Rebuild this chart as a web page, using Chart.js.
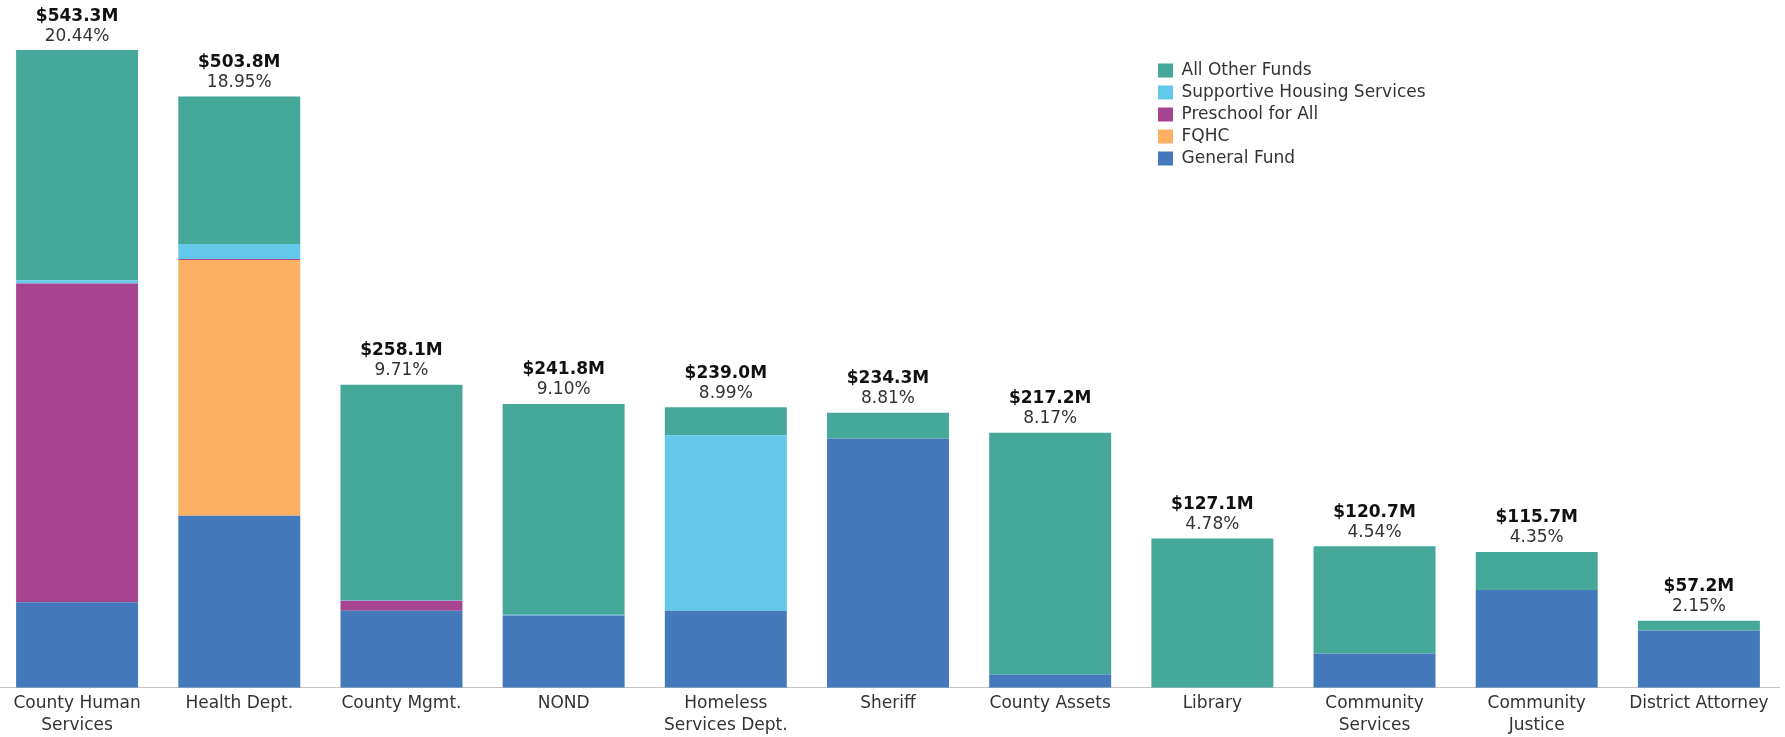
<!DOCTYPE html>
<html>
<head>
<meta charset="utf-8">
<script src="https://cdn.jsdelivr.net/npm/chart.js@4.4.1/dist/chart.umd.min.js"></script>
<style>
  html, body { margin: 0; padding: 0; background: #fff; overflow: hidden; }
  #contenedor { position: absolute; left: -4px; top: 0; width: 1784px; height: 737px; }
</style>
</head>
<body>
<div id="contenedor"><canvas id="myChart"></canvas></div>
<script>
// Departamentos (etiquetas de dos líneas van como arreglo)
const departamentos = [
  ['County Human', 'Services'],
  'Health Dept.',
  'County Mgmt.',
  'NOND',
  ['Homeless', 'Services Dept.'],
  'Sheriff',
  'County Assets',
  'Library',
  ['Community', 'Services'],
  ['Community', 'Justice'],
  'District Attorney'
];

// Millones de dólares por fondo
const generalFund       = [72.9, 146.5, 65.7, 61.5, 65.7, 212.3, 11.3, 0, 29.2, 83.3, 48.9];
const fqhc              = [0, 218.0, 0, 0, 0, 0, 0, 0, 0, 0, 0];
const preschoolForAll   = [271.5, 0.8, 8.5, 0, 0, 0, 0, 0, 0, 0, 0];
const supportiveHousing = [2.8, 12.8, 0.7, 0.7, 149.4, 0, 0, 0, 0, 0, 0];
const allOtherFunds     = [196.1, 125.7, 183.2, 179.6, 23.9, 22.0, 205.9, 127.1, 91.5, 32.4, 8.3];

// Porcentaje del presupuesto total
const porcentajes = ['20.44%', '18.95%', '9.71%', '9.10%', '8.99%', '8.81%', '8.17%', '4.78%', '4.54%', '4.35%', '2.15%'];

Chart.defaults.font.family = '"DejaVu Sans", Verdana, sans-serif';
Chart.defaults.font.size = 17;
Chart.defaults.color = '#333';

// Total y porcentaje encima de cada barra
const etiquetasTotales = {
  id: 'etiquetasTotales',
  afterDatasetsDraw(chart) {
    const ctx = chart.ctx;
    const yScale = chart.scales.y;
    const meta = chart.getDatasetMeta(0);
    ctx.save();
    ctx.textAlign = 'center';
    ctx.textBaseline = 'middle';
    departamentos.forEach((dep, i) => {
      const total = chart.data.datasets.reduce((suma, ds) => suma + ds.data[i], 0);
      const x = meta.data[i].x;
      const y = yScale.getPixelForValue(total);
      ctx.font = 'bold 17px "DejaVu Sans", Verdana, sans-serif';
      ctx.fillStyle = '#111';
      ctx.fillText('$' + total.toFixed(1) + 'M', x, y - 34);
      ctx.font = '17px "DejaVu Sans", Verdana, sans-serif';
      ctx.fillStyle = '#333';
      ctx.fillText(porcentajes[i], x, y - 14);
    });
    ctx.restore();
  }
};

// Leyenda dentro del área del gráfico, arriba a la derecha
const moverLeyenda = {
  id: 'moverLeyenda',
  afterLayout(chart) {
    const leyenda = chart.legend;
    const ancho = leyenda.width;
    const alto = leyenda.height;
    leyenda.left = 1157;
    leyenda.top = 57;
    leyenda.right = leyenda.left + ancho;
    leyenda.bottom = leyenda.top + alto;
  }
};

const ctx = document.getElementById('myChart').getContext('2d');

const chartInstance = new Chart(ctx, {
  type: 'bar',
  data: {
    labels: departamentos,
    datasets: [
      { label: 'General Fund', data: generalFund, backgroundColor: '#4479BB' },
      { label: 'FQHC', data: fqhc, backgroundColor: '#FBB064' },
      { label: 'Preschool for All', data: preschoolForAll, backgroundColor: '#A7448F' },
      { label: 'Supportive Housing Services', data: supportiveHousing, backgroundColor: '#63C8E9' },
      { label: 'All Other Funds', data: allOtherFunds, backgroundColor: '#45A898' }
    ]
  },
  options: {
    responsive: true,
    maintainAspectRatio: false,
    animation: false,
    layout: { padding: { top: 0, left: 0, right: 0, bottom: -5 } },
    datasets: {
      bar: { barPercentage: 0.752, categoryPercentage: 1, borderWidth: 0 }
    },
    scales: {
      x: {
        stacked: true,
        grid: { display: false, drawTicks: false },
        border: { display: true, color: '#c4c4c4', dash: [2, 2], width: 1 },
        ticks: { padding: 5, maxRotation: 0, autoSkip: false, color: '#333', font: { size: 17, lineHeight: 1.3 } }
      },
      y: {
        stacked: true,
        display: false,
        min: 0,
        max: 586
      }
    },
    plugins: {
      tooltip: { enabled: false },
      legend: {
        position: 'chartArea',
        align: 'start',
        reverse: true,
        labels: {
          boxWidth: 15,
          boxHeight: 14,
          padding: 5,
          color: '#333',
          font: { size: 17 }
        }
      }
    }
  },
  plugins: [etiquetasTotales, moverLeyenda]
});
</script>
</body>
</html>
